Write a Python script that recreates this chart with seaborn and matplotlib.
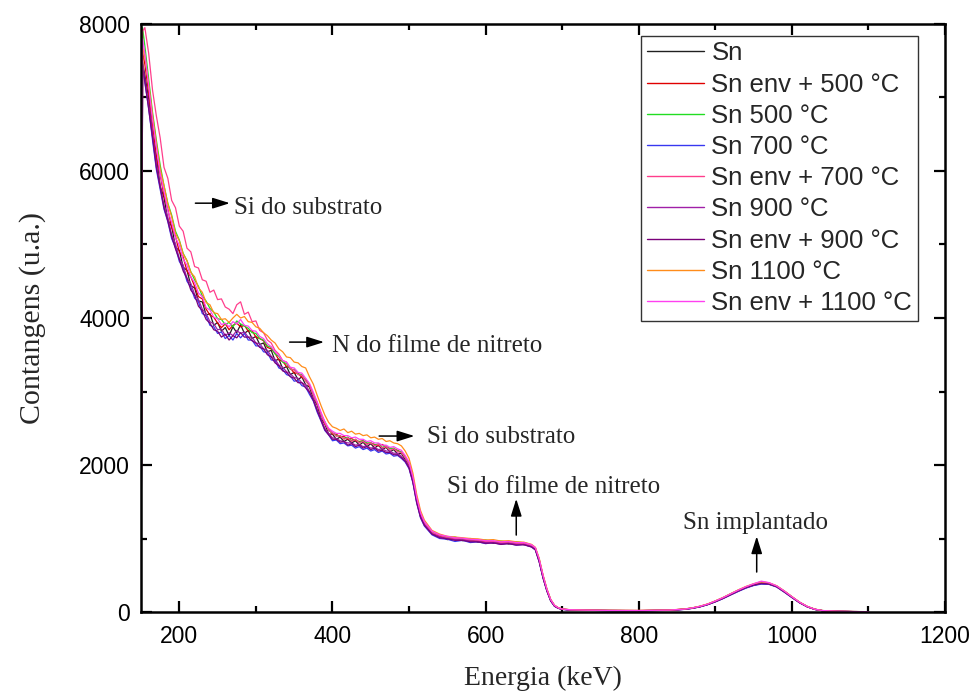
import matplotlib
matplotlib.use("Agg")
import matplotlib.pyplot as plt
from matplotlib.ticker import MultipleLocator
import pandas as pd
import seaborn as sns

# ---------------- data ----------------
energy = [150, 152, 155, 160, 165, 170, 175, 180, 185, 190,
          195, 200, 205, 210, 215, 220, 225, 230, 235, 240,
          245, 250, 255, 260, 265, 270, 275, 280, 285, 290,
          295, 300, 305, 310, 315, 320, 325, 330, 335, 340,
          345, 350, 355, 360, 365, 370, 375, 380, 385, 390,
          395, 400, 405, 410, 415, 420, 425, 430, 435, 440,
          445, 450, 455, 460, 465, 470, 475, 480, 485, 490,
          495, 500, 505, 510, 515, 520, 530, 540, 550, 560,
          570, 580, 590, 600, 610, 620, 630, 640, 650, 655,
          660, 665, 670, 675, 680, 685, 690, 695, 700, 710,
          730, 760, 800, 840, 860, 870, 880, 890, 900, 910,
          920, 930, 940, 950, 960, 970, 980, 990, 1000, 1010,
          1020, 1030, 1040, 1060, 1080, 1100]

sn = [0, 7480, 7300, 6980, 6480, 6190, 5790, 5640, 5330, 5250,
      4960, 4920, 4690, 4650, 4440, 4410, 4230, 4220, 4040, 4060,
      3900, 3940, 3820, 3870, 3760, 3880, 3800, 3910, 3790, 3830,
      3720, 3750, 3640, 3660, 3540, 3560, 3420, 3440, 3310, 3340,
      3230, 3260, 3160, 3200, 3090, 3060, 2900, 2820, 2630, 2560,
      2420, 2420, 2350, 2380, 2320, 2350, 2300, 2330, 2270, 2310,
      2250, 2290, 2230, 2270, 2210, 2240, 2180, 2210, 2150, 2160,
      2070, 2000, 1780, 1530, 1300, 1190, 1060, 1040, 985, 1005,
      970, 990, 950, 965, 935, 955, 925, 945, 915, 925,
      895, 850, 690, 470, 295, 155, 80, 50, 38, 28,
      24, 20, 18, 24, 38, 52, 72, 102, 140, 185,
      235, 285, 330, 365, 385, 380, 345, 275, 200, 128,
      72, 36, 18, 9, 6, 4]

sn_env_500 = [0, 7620, 7450, 7060, 6640, 6200, 5950, 5660, 5480, 5230,
              5110, 4900, 4830, 4640, 4560, 4430, 4290, 4260, 4120, 4040,
              4010, 3930, 3870, 3920, 3840, 3900, 3930, 3880, 3900, 3820,
              3830, 3740, 3720, 3690, 3600, 3580, 3520, 3430, 3410, 3340,
              3320, 3250, 3250, 3190, 3170, 3070, 2970, 2830, 2700, 2560,
              2490, 2420, 2420, 2380, 2390, 2350, 2360, 2330, 2320, 2330,
              2290, 2300, 2280, 2260, 2280, 2240, 2230, 2220, 2200, 2170,
              2110, 2020, 1830, 1550, 1340, 1210, 1090, 1030, 1020, 990,
              1000, 975, 980, 950, 960, 940, 950, 930, 935, 915,
              905, 865, 710, 490, 305, 165, 88, 56, 40, 30,
              25, 22, 20, 26, 40, 56, 76, 108, 148, 192,
              245, 292, 338, 372, 395, 388, 350, 282, 205, 132,
              74, 38, 19, 10, 6, 4]

sn_500 = [0, 7950, 7700, 7250, 6800, 6420, 6080, 5800, 5560, 5400,
          5180, 5060, 4880, 4780, 4630, 4520, 4430, 4300, 4230, 4130,
          4080, 3990, 3980, 3910, 3940, 3880, 3960, 3920, 3890, 3860,
          3800, 3790, 3720, 3700, 3620, 3600, 3510, 3480, 3400, 3380,
          3300, 3300, 3240, 3230, 3150, 3090, 2960, 2850, 2690, 2590,
          2470, 2440, 2400, 2400, 2360, 2380, 2330, 2350, 2310, 2330,
          2300, 2300, 2270, 2290, 2240, 2260, 2220, 2230, 2190, 2180,
          2100, 2020, 1820, 1540, 1330, 1220, 1090, 1050, 1010, 1020,
          990, 1000, 970, 980, 955, 965, 950, 955, 940, 930,
          910, 870, 715, 490, 310, 165, 88, 56, 40, 31,
          26, 22, 19, 25, 41, 55, 78, 105, 150, 195,
          248, 298, 342, 380, 405, 392, 355, 285, 208, 133,
          76, 38, 20, 10, 6, 5]

sn_700 = [0, 7400, 7200, 6850, 6420, 6020, 5750, 5480, 5310, 5080,
          4960, 4770, 4680, 4500, 4420, 4270, 4220, 4060, 4030, 3900,
          3880, 3790, 3810, 3720, 3760, 3700, 3790, 3730, 3790, 3700,
          3700, 3620, 3620, 3540, 3530, 3430, 3420, 3320, 3300, 3230,
          3210, 3140, 3150, 3080, 3060, 2960, 2870, 2720, 2600, 2470,
          2410, 2330, 2340, 2290, 2300, 2260, 2270, 2230, 2250, 2210,
          2230, 2190, 2210, 2170, 2190, 2150, 2160, 2120, 2130, 2090,
          2040, 1950, 1760, 1480, 1280, 1170, 1050, 1000, 990, 960,
          975, 945, 955, 930, 945, 920, 935, 910, 920, 900,
          885, 845, 680, 460, 285, 150, 78, 50, 36, 27,
          23, 19, 17, 23, 36, 50, 70, 100, 138, 182,
          232, 280, 325, 360, 380, 376, 340, 270, 196, 125,
          70, 35, 17, 9, 5, 4]

sn_env_700 = [0, 7900, 7950, 7600, 7100, 6750, 6450, 6050, 5900, 5600,
              5500, 5250, 5180, 4950, 4900, 4700, 4680, 4520, 4500, 4350,
              4380, 4250, 4260, 4150, 4120, 4060, 4180, 4220, 4050, 4080,
              3950, 3960, 3830, 3800, 3700, 3660, 3560, 3510, 3420, 3400,
              3310, 3290, 3230, 3220, 3140, 3080, 2950, 2840, 2690, 2570,
              2470, 2440, 2390, 2400, 2350, 2370, 2320, 2350, 2300, 2320,
              2280, 2300, 2260, 2280, 2230, 2250, 2200, 2220, 2180, 2170,
              2100, 2010, 1810, 1530, 1320, 1210, 1080, 1040, 1010, 1000,
              995, 980, 975, 960, 960, 945, 950, 930, 935, 915,
              905, 865, 710, 490, 305, 165, 88, 56, 40, 30,
              26, 21, 20, 26, 39, 54, 77, 106, 146, 193,
              244, 295, 340, 378, 410, 395, 352, 283, 206, 131,
              75, 37, 19, 10, 6, 4]

sn_900 = [0, 7450, 7250, 6900, 6500, 6100, 5800, 5530, 5370, 5130,
          5010, 4810, 4720, 4540, 4470, 4320, 4250, 4120, 4060, 3950,
          3920, 3840, 3850, 3760, 3800, 3760, 3830, 3790, 3810, 3740,
          3740, 3660, 3650, 3580, 3560, 3480, 3440, 3360, 3330, 3270,
          3240, 3190, 3180, 3120, 3090, 3000, 2900, 2760, 2630, 2500,
          2430, 2370, 2360, 2330, 2320, 2300, 2300, 2270, 2280, 2250,
          2260, 2230, 2240, 2210, 2220, 2190, 2190, 2160, 2160, 2120,
          2060, 1970, 1780, 1500, 1300, 1185, 1065, 1020, 1000, 985,
          980, 965, 960, 945, 945, 930, 935, 920, 920, 905,
          890, 850, 690, 470, 290, 155, 80, 52, 37, 29,
          24, 20, 18, 24, 37, 52, 73, 103, 142, 188,
          238, 288, 334, 368, 392, 384, 346, 277, 202, 129,
          72, 36, 18, 9, 6, 4]

sn_env_900 = [0, 7420, 7220, 6840, 6460, 6050, 5780, 5500, 5320, 5110,
              4940, 4800, 4640, 4540, 4380, 4310, 4160, 4100, 3980, 3930,
              3840, 3820, 3740, 3780, 3700, 3760, 3730, 3800, 3740, 3740,
              3690, 3660, 3600, 3580, 3500, 3470, 3390, 3350, 3280, 3260,
              3200, 3180, 3120, 3120, 3050, 2990, 2880, 2740, 2610, 2480,
              2410, 2350, 2350, 2310, 2320, 2270, 2290, 2250, 2270, 2230,
              2250, 2210, 2230, 2190, 2200, 2170, 2170, 2140, 2140, 2100,
              2050, 1960, 1770, 1490, 1290, 1180, 1060, 1010, 995, 975,
              975, 955, 955, 935, 940, 920, 930, 910, 915, 900,
              885, 845, 685, 465, 288, 152, 79, 51, 37, 28,
              24, 20, 18, 23, 37, 51, 72, 101, 141, 186,
              236, 286, 331, 366, 388, 381, 344, 274, 199, 127,
              71, 35, 18, 9, 5, 4]

sn_1100 = [0, 7700, 7550, 7180, 6760, 6380, 6030, 5800, 5550, 5380,
           5150, 5050, 4870, 4780, 4620, 4560, 4410, 4350, 4210, 4180,
           4070, 4060, 3980, 3990, 3940, 4000, 4050, 4000, 4020, 3950,
           3940, 3880, 3860, 3800, 3760, 3700, 3660, 3580, 3540, 3470,
           3460, 3400, 3390, 3340, 3320, 3200, 3100, 2950, 2810, 2680,
           2580, 2520, 2500, 2470, 2490, 2440, 2460, 2420, 2430, 2400,
           2410, 2370, 2380, 2350, 2360, 2320, 2330, 2300, 2290, 2260,
           2190, 2090, 1890, 1600, 1380, 1250, 1110, 1060, 1030, 1020,
           1010, 1000, 995, 980, 985, 965, 970, 955, 950, 935,
           920, 880, 730, 505, 318, 172, 92, 58, 42, 32,
           27, 23, 21, 27, 42, 57, 80, 110, 152, 198,
           250, 302, 348, 385, 412, 398, 358, 288, 210, 135,
           77, 39, 20, 10, 6, 5]

sn_env_1100 = [0, 7800, 7600, 7150, 6700, 6330, 5960, 5720, 5460, 5300,
               5090, 4990, 4800, 4720, 4560, 4480, 4340, 4290, 4140, 4110,
               4010, 3990, 3910, 3930, 3880, 3950, 3920, 3980, 3900, 3890,
               3830, 3820, 3750, 3720, 3650, 3610, 3540, 3490, 3420, 3400,
               3330, 3320, 3260, 3250, 3180, 3110, 2990, 2860, 2720, 2590,
               2500, 2460, 2430, 2430, 2400, 2400, 2370, 2380, 2350, 2350,
               2320, 2330, 2300, 2300, 2270, 2270, 2240, 2250, 2220, 2200,
               2130, 2040, 1840, 1560, 1350, 1230, 1100, 1050, 1030, 1010,
               1005, 990, 985, 970, 970, 955, 960, 945, 945, 930,
               915, 875, 720, 498, 312, 168, 90, 57, 41, 31,
               26, 22, 20, 26, 40, 56, 78, 108, 150, 196,
               248, 298, 345, 384, 420, 400, 356, 286, 208, 134,
               76, 38, 20, 10, 6, 5]

labels = ["Sn", "Sn env + 500 °C", "Sn 500 °C", "Sn 700 °C", "Sn env + 700 °C",
          "Sn 900 °C", "Sn env + 900 °C", "Sn 1100 °C", "Sn env + 1100 °C"]
series_values = [sn, sn_env_500, sn_500, sn_700, sn_env_700,
                 sn_900, sn_env_900, sn_1100, sn_env_1100]
line_colors = ["#202020", "#E00000", "#22DD22", "#3838F0", "#FF3E8C",
               "#A020A8", "#7A007A", "#FF8C1A", "#FF40F0"]

# annotations: (text, text_x, text_y, arrow_from, arrow_to)
notes = [
    ("Si do substrato", 272, 5494, (221, 5562), (266, 5562)),
    ("N do filme de nitreto", 400, 3618, (344, 3672), (389, 3672)),
    ("Si do substrato", 524, 2380, (461, 2394), (507, 2394)),
    ("Si do filme de nitreto", 689, 1700, (640, 1047), (640, 1540)),
    ("Sn implantado", 953, 1210, (954, 544), (954, 1030)),
]

# ---------------- build table ----------------
frames = []
for name, vals in zip(labels, series_values):
    frames.append(pd.DataFrame({"Energia": energy, "Contagens": vals, "Amostra": name}))
df = pd.concat(frames, ignore_index=True)

sns.set_style("ticks")
plt.rcParams["font.family"] = ["Liberation Sans", "DejaVu Sans"]
plt.rcParams["axes.linewidth"] = 1.8

fig = plt.figure(figsize=(9.74, 6.95), dpi=100)
ax = fig.add_axes([0.1448, 0.1194, 0.8255, 0.8461])

sns.lineplot(data=df, x="Energia", y="Contagens", hue="Amostra",
             hue_order=labels, palette=dict(zip(labels, line_colors)),
             estimator=None, sort=False, linewidth=0.9, ax=ax)

ax.set_xlim(150, 1200)
ax.set_ylim(0, 8000)
ax.xaxis.set_major_locator(MultipleLocator(200))
ax.xaxis.set_minor_locator(MultipleLocator(100))
ax.yaxis.set_major_locator(MultipleLocator(2000))
ax.yaxis.set_minor_locator(MultipleLocator(1000))
ax.tick_params(which="both", direction="in", top=True, right=True,
               labelsize=16.5, width=1.6, colors="black")
ax.tick_params(which="major", length=8)
ax.tick_params(which="minor", length=4)
ax.tick_params(axis="x", which="major", pad=9)
ax.tick_params(axis="y", which="major", pad=8)
for s in ax.spines.values():
    s.set_linewidth(1.8)
    s.set_color("black")

serif = ["Liberation Serif", "DejaVu Serif"]
ax.set_xlabel("Energia (keV)", fontsize=20, family=serif, labelpad=13)
ax.set_ylabel("Contangens (u.a.)", fontsize=21.5, family=serif, labelpad=24)

for text, tx, ty, a_from, a_to in notes:
    vertical = a_from[0] == a_to[0]
    ha = "center" if vertical else "left"
    ax.text(tx, ty, text, fontsize=18, family=serif, ha=ha, va="center")
    ax.annotate("", xy=a_to, xytext=a_from,
                arrowprops=dict(arrowstyle="-|>,head_length=0.7,head_width=0.22",
                                color="black", lw=1.1, mutation_scale=15,
                                shrinkA=0, shrinkB=0))

handles, labs = ax.get_legend_handles_labels()
leg = ax.legend(handles, labs, loc="upper right", bbox_to_anchor=(0.966, 0.98),
                borderaxespad=0, fontsize=18.5, frameon=True, fancybox=False,
                edgecolor="black", handlelength=2.2, handletextpad=0.3,
                labelspacing=0.28, borderpad=0.22)
leg.get_frame().set_linewidth(1.0)
for line in leg.get_lines():
    line.set_linewidth(1.0)

fig.savefig("out.png", dpi=100)
